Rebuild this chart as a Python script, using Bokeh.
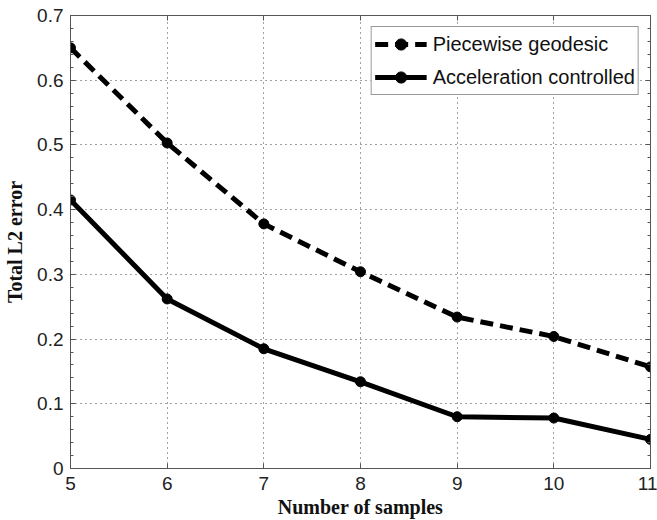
from bokeh.plotting import figure
from bokeh.models import FixedTicker, LinearAxis, Range1d, PrintfTickFormatter, CustomJSTickFormatter
from bokeh.embed import file_html
from bokeh.resources import INLINE

# ---- data ----
samples = [5, 6, 7, 8, 9, 10, 11]
piecewise_geodesic = [0.650, 0.503, 0.378, 0.304, 0.234, 0.204, 0.157]
acceleration_controlled = [0.415, 0.262, 0.185, 0.134, 0.080, 0.078, 0.045]
x_ticks = [5, 6, 7, 8, 9, 10, 11]
y_ticks = [0, 0.1, 0.2, 0.3, 0.4, 0.5, 0.6, 0.7]
y_minor = [round(0.02 * i, 2) for i in range(36)]

FRAME = "#555555"
TICK_FONT = "Liberation Sans"

p = figure(width=657, height=520,
           x_range=Range1d(5, 11), y_range=Range1d(0, 0.7),
           output_backend="svg", toolbar_location=None,
           min_border_left=70, min_border_right=7,
           min_border_top=15, min_border_bottom=48,
           background_fill_color="white", border_fill_color="white")

p.outline_line_color = FRAME
p.outline_line_width = 1

xt = FixedTicker(ticks=x_ticks, minor_ticks=[])
yt = FixedTicker(ticks=y_ticks, minor_ticks=y_minor)

p.xaxis.ticker = xt
p.yaxis.ticker = yt
p.yaxis.formatter = PrintfTickFormatter(format="%g")

def style_axis(ax):
    ax.axis_line_color = FRAME
    ax.major_tick_line_color = FRAME
    ax.minor_tick_line_color = FRAME
    ax.major_tick_in = 5
    ax.major_tick_out = 0
    ax.minor_tick_in = 3
    ax.minor_tick_out = 0

for ax in (p.xaxis[0], p.yaxis[0]):
    style_axis(ax)
    ax.major_label_text_font = TICK_FONT
    ax.major_label_text_font_size = "19px"
    ax.major_label_text_color = "#222222"
    ax.axis_label_text_font = "Liberation Serif"
    ax.axis_label_text_font_style = "bold"
    ax.axis_label_text_font_size = "20px"
    ax.axis_label_text_color = "#111111"

p.xaxis.axis_label = "Number of samples"
p.yaxis.axis_label = "Total L2 error"
p.xaxis.major_label_standoff = 8
p.xaxis.axis_label_standoff = 3
p.yaxis.major_label_standoff = 7
p.yaxis.axis_label_standoff = 8

blank = CustomJSTickFormatter(code="return ''")
right = LinearAxis(ticker=yt, formatter=blank, major_label_standoff=0)
top = LinearAxis(ticker=xt, formatter=blank, major_label_standoff=0)
style_axis(right)
style_axis(top)
p.add_layout(right, "right")
p.add_layout(top, "above")

p.xgrid.ticker = xt
p.ygrid.ticker = yt
for g in (p.xgrid[0], p.ygrid[0]):
    g.grid_line_color = "#444444"
    g.grid_line_dash = "1 4"
    g.grid_line_width = 1

# ---- series ----
p.line(samples, piecewise_geodesic, line_color="black", line_width=5,
       line_dash="13 7", legend_label="Piecewise geodesic")
p.scatter(samples, piecewise_geodesic, marker="circle", size=10,
          fill_color="black", line_color="black", legend_label="Piecewise geodesic")
p.line(samples, acceleration_controlled, line_color="black", line_width=5,
       legend_label="Acceleration controlled")
p.scatter(samples, acceleration_controlled, marker="circle", size=10,
          fill_color="black", line_color="black", legend_label="Acceleration controlled")

lg = p.legend[0]
lg.location = "top_right"
lg.margin = 11
lg.padding = 3
lg.spacing = 5
lg.glyph_width = 52
lg.glyph_height = 28
lg.label_height = 28
lg.label_standoff = 6
lg.label_text_font = TICK_FONT
lg.label_text_font_size = "20px"
lg.label_text_color = "#111111"
lg.border_line_color = "#333333"
lg.border_line_width = 1
lg.background_fill_color = "white"
lg.background_fill_alpha = 1

open("out.html", "w").write(file_html(p, INLINE))
